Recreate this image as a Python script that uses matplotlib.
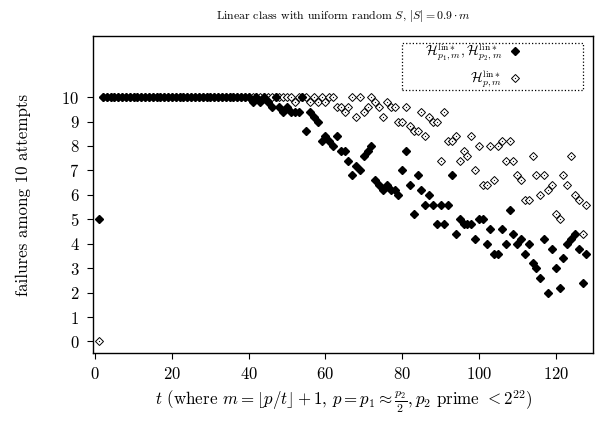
import matplotlib
matplotlib.use('Agg')
import matplotlib.pyplot as plt
from matplotlib.legend_handler import HandlerTuple
from matplotlib.patches import Rectangle

# t values
t = list(range(1, 129))

# failures among 10 attempts, H_{p1,m} / H_{p2,m} (filled diamonds)
filled = [5] + [10] * 39 + [
    9.8, 10, 9.8, 10, 9.8, 9.6, 10, 9.6, 9.4, 9.6,
    9.4, 9.4, 9.4, 10, 8.6, 9.4, 9.2, 9.0, 8.2, 8.4,
    8.2, 8.0, 8.4, 7.8, 7.8, 7.4, 6.8, 7.2, 7.0, 7.6,
    7.8, 8.0, 6.6, 6.4, 6.2, 6.4, 6.2, 6.2, 6.0, 7.0,
    7.8, 6.4, 5.2, 6.8, 6.2, 5.6, 6.0, 5.6, 4.8, 5.6,
    4.8, 5.6, 6.8, 4.4, 5.0, 4.8, 4.8, 4.8, 4.2, 5.0,
    5.0, 4.0, 4.6, 3.6, 3.6, 4.6, 4.0, 5.4, 4.4, 4.0,
    4.2, 3.6, 4.0, 3.2, 3.0, 2.6, 4.2, 2.0, 3.8, 3.0,
    2.2, 3.4, 4.0, 4.2, 4.4, 3.8, 2.4, 3.6]

# failures among 10 attempts, H_{p,m} (open diamonds)
hollow = [0] + [10] * 39 + [10] * 11 + [
    9.8, 10, 10, 10, 9.8, 10, 9.8, 10, 9.8,
    10, 10, 9.6, 9.6, 9.4, 9.6, 10, 9.2, 10, 9.4,
    9.6, 10, 9.8, 9.6, 9.2, 9.8, 9.6, 9.6, 9.0, 9.0,
    9.6, 8.8, 8.6, 8.6, 9.4, 8.4, 9.2, 9.0, 9.0, 7.4,
    9.4, 8.2, 8.2, 8.4, 7.4, 7.8, 7.6, 8.4, 7.0, 8.0,
    6.4, 6.4, 8.0, 6.6, 8.0, 8.2, 7.4, 8.2, 7.4, 6.8,
    6.6, 5.8, 5.8, 7.6, 6.8, 6.0, 6.8, 6.2, 6.4, 5.2,
    5.0, 6.8, 6.4, 7.6, 6.0, 5.8, 4.4, 5.6]

xticks = [0, 20, 40, 60, 80, 100, 120]
yticks = list(range(0, 11))

plt.rcParams['font.family'] = 'serif'
plt.rcParams['font.serif'] = ['cmr10']
plt.rcParams['mathtext.fontset'] = 'cm'
plt.rcParams['axes.formatter.use_mathtext'] = True

fig = plt.figure(figsize=(6.02, 4.21), dpi=100)
ax = fig.add_axes([0.155, 0.161, 0.8305, 0.7535])

# open diamonds with a centre dot
l_open, = ax.plot(t, hollow, linestyle='none', marker='D', markersize=4.3,
                  markerfacecolor='white', markeredgecolor='black', markeredgewidth=0.7)
l_dot, = ax.plot(t, hollow, linestyle='none', marker='o', markersize=0.6,
                 markeredgewidth=0.3, color='black')
# filled diamonds
l_fill, = ax.plot(t, filled, linestyle='none', marker='D', markersize=3.6,
                  color='black')

ax.set_xlim(-0.5, 129.8)
ax.set_ylim(-0.48, 12.5)
ax.set_xticks(xticks)
ax.set_yticks(yticks)
ax.tick_params(direction='out', length=4, width=0.8, labelsize=12, pad=5)
ax.tick_params(axis='y', pad=6)
for s in ax.spines.values():
    s.set_linewidth(1.0)

ax.set_xlabel(r'$t$ (where $m = \lfloor p/t \rfloor + 1$, $p = p_1 \approx \frac{p_2}{2}, p_2$ prime $< 2^{22}$)',
              fontsize=12.2, labelpad=5)
ax.set_ylabel('failures among 10 attempts', fontsize=12.2, labelpad=22)
ax.set_title(r'Linear class with uniform random $S$, $|S| = 0.9\cdot m$', fontsize=8.5, pad=12)

# legend: entries right-aligned with marker on the right, dotted box
leg = ax.legend([l_fill, (l_open, l_dot)],
                [r'$\mathcal{H}^{\mathrm{lin}*}_{p_1,m},\mathcal{H}^{\mathrm{lin}*}_{p_2,m}$',
                 r'$\mathcal{H}^{\mathrm{lin}*}_{p,m}$'],
                handler_map={tuple: HandlerTuple(ndivide=1)},
                loc='center right', bbox_to_anchor=(0.857, 0.906), borderaxespad=0,
                markerfirst=False, frameon=False, fontsize=10, handlelength=1.0,
                labelspacing=0.35, borderpad=0, handletextpad=0.4)
ax.add_patch(Rectangle((0.617, 0.83), 0.362, 0.148, transform=ax.transAxes,
                       fill=False, edgecolor='black', linestyle=':', linewidth=0.9))

plt.savefig('out.png', dpi=100)
